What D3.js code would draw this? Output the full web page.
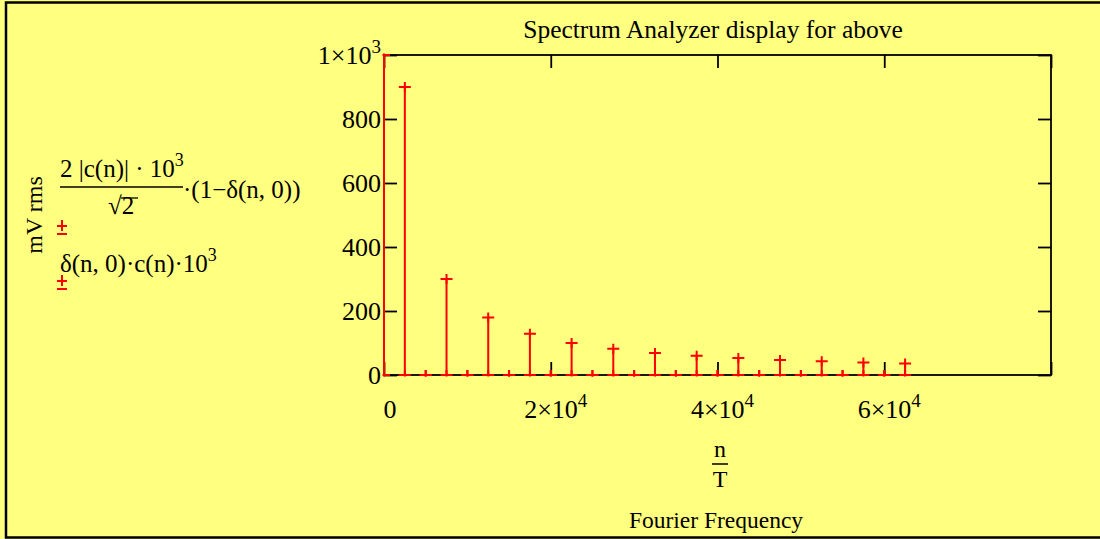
<!DOCTYPE html>
<html>
<head>
<meta charset="utf-8">
<script src="https://cdn.jsdelivr.net/npm/d3@7"></script>
<style>
  html, body { margin: 0; background: #ffff80; overflow: hidden; }
  svg { display: block; font-family: "Liberation Serif", "Times New Roman", serif; }
</style>
</head>
<body>
<div id="graph1"></div>
<script>
// harmonic frequencies n/T (Hz), n = 0..25
var freqs = [0, 2500, 5000, 7500, 10000, 12500, 15000, 17500, 20000, 22500, 25000, 27500, 30000,
             32500, 35000, 37500, 40000, 42500, 45000, 47500, 50000, 52500, 55000, 57500, 60000, 62500];
// 2|c(n)|*1e3/sqrt(2)*(1-delta(n,0))  -> mV rms
var harmonicRms = [0, 900, 0, 300, 0, 180, 0, 129, 0, 100, 0, 82, 0, 69,
                   0, 60, 0, 53, 0, 47, 0, 43, 0, 39, 0, 36];
// delta(n,0)*c(n)*1e3 -> DC level
var dcLevel = [1000, 0, 0, 0, 0, 0, 0, 0, 0, 0, 0, 0, 0, 0,
               0, 0, 0, 0, 0, 0, 0, 0, 0, 0, 0, 0];

var xTicks = [0, 20000, 40000, 60000, 80000];
var xTickLabels = [["0", ""], ["2×10", "4"], ["4×10", "4"], ["6×10", "4"], ["", ""]];
var yTicks = [0, 200, 400, 600, 800, 1000];
var yTickLabels = [["0", ""], ["200", ""], ["400", ""], ["600", ""], ["800", ""], ["1×10", "3"]];

var W = 1100, H = 539;
var margin = {top: 55, left: 384},
    width = 667, height = 320;
var red = "#ff0000";

var svg = d3.select("#graph1").append("svg")
    .attr("width", W).attr("height", H);

svg.append("rect").attr("width", W).attr("height", H).attr("fill", "#ffff80");
// outer frame: top, left, bottom edges (right side falls outside the picture)
svg.append("path")
    .attr("d", "M" + W + ",2.5H6V" + (H - 1.5) + "H" + W)
    .attr("fill", "none").attr("stroke", "black").attr("stroke-width", 2.5);

var g = svg.append("g")
    .attr("transform", "translate(" + margin.left + "," + margin.top + ")");

var x = d3.scaleLinear().domain([0, 80000]).range([0, width]);
var y = d3.scaleLinear().domain([0, 1000]).range([height, 0]);

// box + inward ticks
g.append("rect").attr("width", width).attr("height", height)
    .attr("fill", "none").attr("stroke", "black").attr("stroke-width", 1.8);

function styleAxis(sel) {
  sel.select(".domain").remove();
  sel.selectAll("line").attr("stroke", "black").attr("stroke-width", 1.8);
  sel.selectAll("text").remove();
}

g.append("g").attr("transform", "translate(0," + height + ")")
  .call(d3.axisBottom(x).tickValues(xTicks).tickSizeInner(-13).tickSizeOuter(0))
  .call(styleAxis);
g.append("g")
  .call(d3.axisTop(x).tickValues(xTicks).tickSizeInner(-13).tickSizeOuter(0))
  .call(styleAxis);
g.append("g")
  .call(d3.axisLeft(y).tickValues(yTicks).tickSizeInner(-13).tickSizeOuter(0))
  .call(styleAxis);
g.append("g").attr("transform", "translate(" + width + ",0)")
  .call(d3.axisRight(y).tickValues(yTicks).tickSizeInner(-13).tickSizeOuter(0))
  .call(styleAxis);

// tick labels with superscripts
function addLabel(parent, lab, px, py, anchor) {
  var t = parent.append("text")
      .attr("x", px).attr("y", py)
      .attr("text-anchor", anchor)
      .style("font-size", "26px").attr("fill", "black");
  t.append("tspan").text(lab[0]);
  if (lab[1]) t.append("tspan").attr("dy", -11).style("font-size", "19px").text(lab[1]);
  return t;
}

xTicks.forEach(function(v, i) {
  var lab = xTickLabels[i];
  if (!lab[0]) return;
  var px = i === 0 ? x(v) + 6 : x(v) + 5;
  addLabel(g, lab, px, height + 43, "middle");
});
yTicks.forEach(function(v, i) {
  addLabel(g, yTickLabels[i], -3, y(v) + 9, "end");
});

// traces
g.append("clipPath").attr("id", "plotclip")
  .append("rect").attr("x", -1.5).attr("y", -1.5)
  .attr("width", width + 3).attr("height", height + 3);

var traces = g.append("g").attr("clip-path", "url(#plotclip)");

function drawStems(vals) {
  var pts = freqs.map(function(f, i) { return {f: f, v: vals[i]}; });
  traces.selectAll(null).data(pts).enter().append("line")
    .attr("x1", function(d) { return x(d.f); })
    .attr("x2", function(d) { return x(d.f); })
    .attr("y1", y(0))
    .attr("y2", function(d) { return y(d.v); })
    .attr("stroke", red).attr("stroke-width", 2);
  traces.selectAll(null).data(pts).enter().append("path")
    .attr("d", function(d) {
      var cx = x(d.f), cy = y(d.v);
      return "M" + (cx - 6) + "," + cy + "H" + (cx + 6) + "M" + cx + "," + (cy - 5) + "V" + (cy + 5);
    })
    .attr("stroke", red).attr("stroke-width", 2).attr("fill", "none");
}
drawStems(harmonicRms);
drawStems(dcLevel);

// title and axis labels
svg.append("text").attr("x", 713).attr("y", 38).attr("text-anchor", "middle")
  .style("font-size", "25.5px").text("Spectrum Analyzer display for above");

svg.append("text").attr("x", 720).attr("y", 457).attr("text-anchor", "middle")
  .style("font-size", "24px").text("n");
svg.append("line").attr("x1", 712).attr("x2", 728).attr("y1", 464).attr("y2", 464)
  .attr("stroke", "black").attr("stroke-width", 1.5);
svg.append("text").attr("x", 720).attr("y", 487).attr("text-anchor", "middle")
  .style("font-size", "24px").text("T");

svg.append("text").attr("x", 716).attr("y", 528).attr("text-anchor", "middle")
  .style("font-size", "23.5px").text("Fourier Frequency");

svg.append("text")
  .attr("transform", "translate(42,215) rotate(-90)")
  .attr("text-anchor", "middle").style("font-size", "24px").text("mV rms");

// legend formulas
var f1 = svg.append("text").attr("x", 60).attr("y", 177).style("font-size", "25px");
f1.append("tspan").text("2 |c(n)| · 10");
f1.append("tspan").attr("dy", -11).style("font-size", "18px").text("3");
svg.append("line").attr("x1", 60).attr("x2", 183).attr("y1", 187).attr("y2", 187)
  .attr("stroke", "black").attr("stroke-width", 1.5);
svg.append("text").attr("x", 108).attr("y", 214).style("font-size", "25px").text("√2");
svg.append("line").attr("x1", 121).attr("x2", 138).attr("y1", 198).attr("y2", 198)
  .attr("stroke", "black").attr("stroke-width", 1.3);
svg.append("text").attr("x", 183).attr("y", 198).style("font-size", "25px").text("·(1−δ(n, 0))");

var f2 = svg.append("text").attr("x", 60).attr("y", 272).style("font-size", "25px");
f2.append("tspan").text("δ(n, 0)·c(n)·10");
f2.append("tspan").attr("dy", -11).style("font-size", "18px").text("3");

// legend trace symbols: plus over a bar
function legendMark(cx, cy) {
  svg.append("path")
    .attr("d", "M" + (cx - 5) + "," + cy + "H" + (cx + 5) +
               "M" + cx + "," + (cy - 6) + "V" + (cy + 5) +
               "M" + (cx - 5) + "," + (cy + 8) + "H" + (cx + 5))
    .attr("stroke", red).attr("stroke-width", 2).attr("fill", "none");
}
legendMark(62, 226);
legendMark(62, 281);
</script>
</body>
</html>
